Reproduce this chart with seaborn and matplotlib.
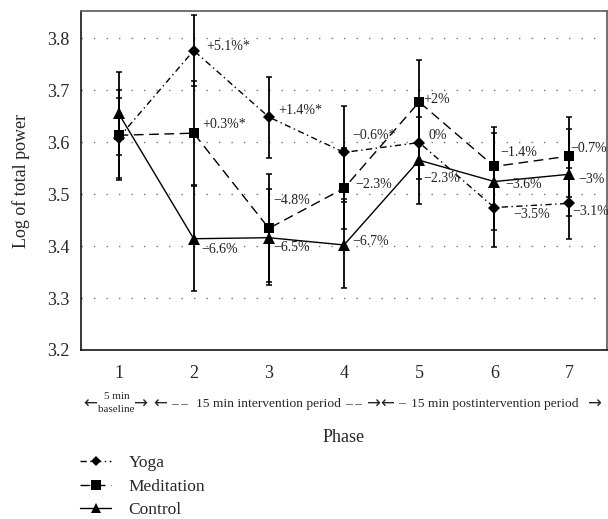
import numpy as np
import pandas as pd
import matplotlib
matplotlib.use("Agg")
import matplotlib.pyplot as plt
import matplotlib.transforms as mtransforms
from matplotlib.lines import Line2D
import seaborn as sns

# ---------------- data ----------------
phases = [1, 2, 3, 4, 5, 6, 7]
groups = ["Yoga", "Meditation", "Control"]

yoga_mean = [3.608, 3.776, 3.648, 3.580, 3.599, 3.474, 3.482]
yoga_upper = [3.684, 3.845, 3.725, 3.670, 3.669, 3.549, 3.550]
yoga_lower = [3.530, 3.708, 3.570, 3.490, 3.529, 3.399, 3.414]

med_mean = [3.613, 3.617, 3.434, 3.511, 3.677, 3.553, 3.573]
med_upper = [3.700, 3.717, 3.538, 3.589, 3.757, 3.629, 3.648]
med_lower = [3.527, 3.518, 3.330, 3.433, 3.597, 3.477, 3.495]

ctrl_mean = [3.655, 3.414, 3.416, 3.402, 3.565, 3.524, 3.538]
ctrl_upper = [3.735, 3.515, 3.510, 3.485, 3.649, 3.617, 3.625]
ctrl_lower = [3.575, 3.313, 3.325, 3.319, 3.481, 3.431, 3.458]

yoga_labels = ["", "+5.1%*", "+1.4%*", "\u22120.6%*", "0%", "\u22123.5%", "\u22123.1%"]
med_labels = ["", "+0.3%*", "\u22124.8%", "\u22122.3%", "+2%", "\u22121.4%", "\u22120.7%"]
ctrl_labels = ["", "\u22126.6%", "\u22126.5%", "\u22126.7%", "\u22122.3%", "\u22123.6%", "\u22123%"]

y_ticks = [3.2, 3.3, 3.4, 3.5, 3.6, 3.7, 3.8]

# ---------------- styling / positions ----------------
sns.set_style("white")
plt.rcParams["font.family"] = ["Liberation Serif", "DejaVu Serif"]

series = {
    "Yoga": dict(mean=yoga_mean, up=yoga_upper, lo=yoga_lower, labels=yoga_labels,
                 marker="D", ms=6.5, ls=(0, (4.5, 2.5, 1, 2.5)), lms=5.0,
                 offs=[(0, 0), (13, -4), (9, -7), (8, -17), (9, -7), (19, 7), (3, 8)]),
    "Meditation": dict(mean=med_mean, up=med_upper, lo=med_lower, labels=med_labels,
                       marker="s", ms=7.5, ls=(0, (7, 4)), lms=7.0,
                       offs=[(0, 0), (9, -9), (4, -28), (11, -4), (4, -2), (6, -14), (1, -8)]),
    "Control": dict(mean=ctrl_mean, up=ctrl_upper, lo=ctrl_lower, labels=ctrl_labels,
                    marker="^", ms=8.5, ls="-", lms=6.5,
                    offs=[(0, 0), (8, 11), (4, 10), (8, -3), (4, 18), (11, 3), (9, 5)]),
}

fig = plt.figure(figsize=(6.08, 5.19), dpi=100)
ax = fig.add_axes([81 / 608, 1 - 350 / 519, 526 / 608, 339 / 519])

for g in groups:
    s = series[g]
    mean = np.array(s["mean"])
    up = np.array(s["up"])
    lo = np.array(s["lo"])
    ax.errorbar(phases, mean, yerr=[mean - lo, up - mean], fmt="none",
                ecolor="black", elinewidth=1.3, capsize=2.4, capthick=1.1, zorder=2)
    df = pd.DataFrame({"phase": phases, "value": mean})
    sns.lineplot(data=df, x="phase", y="value", ax=ax, color="black",
                 marker=s["marker"], markersize=s["ms"], markeredgewidth=0,
                 linewidth=1.0, linestyle=s["ls"], legend=False, errorbar=None, zorder=3)
    for x, y, lab, off in zip(phases, mean, s["labels"], s["offs"]):
        if lab:
            ax.annotate(lab, (x, y), xytext=(off[0], -off[1]), textcoords="offset pixels",
                        ha="left", va="center", fontsize=10, color="#222222", zorder=4,
                        annotation_clip=False)

# axes limits, grid, ticks
ax.set_xlim(0.5, 7.5)
ax.set_ylim(3.2, 3.852)
ax.set_yticks(y_ticks)
ax.set_yticklabels([f"{t:.1f}" for t in y_ticks], fontsize=13)
ax.set_xticks(phases)
ax.set_xticklabels([str(p) for p in phases], fontsize=13)
ax.set_xticks(np.arange(0.5, 8.0, 1.0), minor=True)
ax.tick_params(axis="x", which="major", length=0, pad=11)
ax.tick_params(axis="x", which="minor", length=4, width=1, direction="out", color="black")
ax.tick_params(axis="y", which="major", length=3.5, width=1, direction="out", pad=5, color="black")
ax.yaxis.grid(False)
ax.xaxis.grid(False)
for t in y_ticks[1:]:
    ax.axhline(t, color="#777777", linestyle=(0, (1, 8)), linewidth=1.0, zorder=0)

for side in ["left", "bottom"]:
    ax.spines[side].set_color("black")
    ax.spines[side].set_linewidth(1.1)
for side in ["top", "right"]:
    ax.spines[side].set_color("#666666")
    ax.spines[side].set_linewidth(1.3)

ax.set_ylabel("Log of total power", fontsize=13)
ax.yaxis.set_label_coords(-0.097, 0.5)
ax.set_xlabel("Phase", fontsize=13)
ax.xaxis.set_label_coords(0.5, -0.257)
ax.xaxis.label.set_va("center")

# period annotations below the x axis
tr = mtransforms.blended_transform_factory(ax.transData, ax.transAxes)
yrow = -0.158
pfs = 9.7
arrow_kw = dict(transform=tr, fontsize=12, va="center", ha="center", clip_on=False,
                family=["DejaVu Sans"])
dash_kw = dict(transform=tr, fontsize=pfs, ha="center", va="center")
ax.text(0.62, yrow, "\u2190", **arrow_kw)
ax.text(0.97, -0.137, "5 min", transform=tr, fontsize=8, ha="center", va="center")
ax.text(0.97, -0.176, "baseline", transform=tr, fontsize=8, ha="center", va="center")
ax.text(1.29, yrow, "\u2192", **arrow_kw)
ax.text(1.55, yrow, "\u2190", **arrow_kw)
ax.text(1.81, yrow, "\u2013 \u2013", **dash_kw)
ax.text(3.0, yrow, "15 min intervention period", transform=tr, fontsize=pfs, ha="center", va="center")
ax.text(4.13, yrow, "\u2013 \u2013", **dash_kw)
ax.text(4.39, yrow, "\u2192", **arrow_kw)
ax.text(4.57, yrow, "\u2190", **arrow_kw)
ax.text(4.77, yrow, "\u2013", **dash_kw)
ax.text(6.0, yrow, "15 min postintervention period", transform=tr, fontsize=pfs, ha="center", va="center")
ax.text(7.33, yrow, "\u2192", **arrow_kw)

# legend
handles = [Line2D([0], [0], color="black", linewidth=1.0, linestyle=series[g]["ls"],
                  marker=series[g]["marker"], markersize=series[g]["lms"], markeredgewidth=0)
           for g in groups]
fig.legend(handles, groups, loc="upper left", bbox_to_anchor=(80 / 608, 1 - 455 / 519),
           frameon=False, fontsize=12.5, handlelength=1.8, handletextpad=1.0,
           labelspacing=0.42, borderpad=0, borderaxespad=0)

fig.savefig("out.png", dpi=100)
